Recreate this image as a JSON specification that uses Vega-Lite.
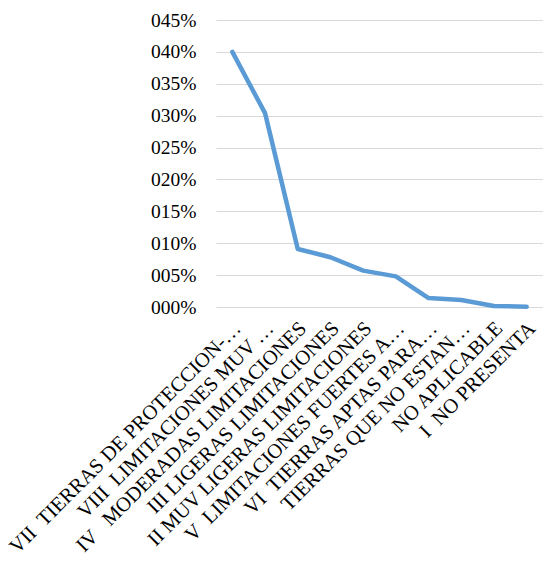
{
  "$schema": "https://vega.github.io/schema/vega-lite/v6.json",
  "autosize": "none",
  "padding": {"left": 216, "top": 20, "right": 0, "bottom": 257},
  "width": 327,
  "height": 287,
  "background": "white",
  "config": {"view": {"stroke": null}, "font": "Liberation Serif"},
  "data": {"values": [
    {"cat": "VII \u00a0TIERRAS DE PROTECCION-…", "v": 40.0},
    {"cat": "VIII \u00a0LIMITACIONES MUV …", "v": 30.4},
    {"cat": "IV \u00a0\u00a0MODERADAS LIMITACIONES", "v": 9.1},
    {"cat": "III LIGERAS LIMITACIONES", "v": 7.8},
    {"cat": "II MUV LIGERAS LIMITACIONES", "v": 5.7},
    {"cat": "V \u00a0LIMITACIONES FUERTES A…", "v": 4.8},
    {"cat": "VI \u00a0TIERRAS APTAS PARA…", "v": 1.4},
    {"cat": "TIERRAS QUE NO ESTAN…", "v": 1.1},
    {"cat": "NO APLICABLE", "v": 0.15},
    {"cat": "I \u00a0NO PRESENTA", "v": 0.05}
  ]},
  "mark": {"type": "line", "color": "#5b9bd5", "strokeWidth": 4.5, "strokeCap": "round", "strokeJoin": "round"},
  "encoding": {
    "x": {
      "field": "cat", "type": "nominal", "sort": null,
      "scale": {"type": "point", "padding": 0.5},
      "axis": {"title": null, "labelAngle": -45, "labelAlign": "right", "labelBaseline": "middle", "labelFontSize": 20.5, "labelColor": "#000", "domain": false, "ticks": false, "labelPadding": 18, "labelOffset": 5, "labelLimit": 400, "labelFont": "Liberation Serif"}
    },
    "y": {
      "field": "v", "type": "quantitative",
      "scale": {"domain": [0, 45], "nice": false},
      "axis": {"title": null, "values": [0, 5, 10, 15, 20, 25, 30, 35, 40, 45], "labelExpr": "(datum.value < 10 ? '00' : '0') + datum.value + '%'", "labelFontSize": 19.5, "labelColor": "#000", "domain": false, "ticks": false, "labelPadding": 20, "gridColor": "#d9d9d9", "gridWidth": 1.2, "labelFont": "Liberation Serif"}
    }
  }
}
